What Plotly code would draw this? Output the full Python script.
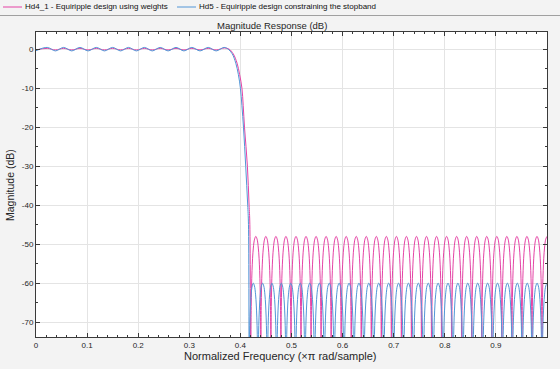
import plotly.graph_objects as go

# ---------------- data ----------------
x_tickvals = [0, 0.1, 0.2, 0.3, 0.4, 0.5, 0.6, 0.7, 0.8, 0.9]
x_ticktext = ["0", "0.1", "0.2", "0.3", "0.4", "0.5", "0.6", "0.7", "0.8", "0.9"]
y_tickvals = [0, -10, -20, -30, -40, -50, -60, -70]
y_ticktext = ["0", "-10", "-20", "-30", "-40", "-50", "-60", "-70"]

name_hd4 = "Hd4_1 - Equiripple design using weights"
name_hd5 = "Hd5 - Equiripple design constraining the stopband"

# passband ripple extrema + transition band (normalized freq, dB)
hd4_pass_f = [0.0, 0.022, 0.038, 0.054, 0.070, 0.086, 0.102, 0.118, 0.134, 0.150,
              0.1655, 0.181, 0.1965, 0.212, 0.2275, 0.243, 0.2585, 0.274, 0.2895,
              0.305, 0.321, 0.337, 0.3525, 0.369,
              0.378, 0.386, 0.3935, 0.3985, 0.403, 0.4055, 0.408, 0.411, 0.4137,
              0.4155, 0.417, 0.4185]
hd4_pass_db = [-0.18, 0.2, -0.2, 0.2, -0.2, 0.2, -0.2, 0.2, -0.2, 0.2,
               -0.2, 0.2, -0.2, 0.2, -0.2, 0.2, -0.2, 0.2, -0.2,
               0.2, -0.2, 0.2, -0.2, 0.3,
               0.0, -1.2, -3.6, -6.5, -10, -14.5, -20, -25, -30,
               -35, -40, -45]

hd5_pass_f = [0.0, 0.022, 0.038, 0.054, 0.070, 0.086, 0.102, 0.118, 0.134, 0.150,
              0.1655, 0.181, 0.1965, 0.212, 0.2275, 0.243, 0.2585, 0.274, 0.2895,
              0.305, 0.321, 0.337, 0.3525, 0.368,
              0.376, 0.384, 0.391, 0.396, 0.400, 0.403, 0.406, 0.4083, 0.4104,
              0.4124, 0.4143, 0.4158]
hd5_pass_db = [-0.4, 0.45, -0.45, 0.45, -0.45, 0.45, -0.45, 0.45, -0.45, 0.45,
               -0.45, 0.45, -0.45, 0.45, -0.45, 0.45, -0.45, 0.45, -0.45,
               0.45, -0.45, 0.45, -0.45, 0.45,
               0.0, -1.2, -3.6, -6.5, -10, -14.5, -20, -25, -30,
               -35, -40, -45]

# stopband: null frequencies and lobe peak frequencies / levels
hd4_null_f = [0.4204, 0.4400, 0.4597, 0.4793, 0.4990, 0.5186, 0.5383, 0.5579, 0.5776,
              0.5972, 0.6169, 0.6365, 0.6562, 0.6758, 0.6955, 0.7151, 0.7348, 0.7544,
              0.7741, 0.7937, 0.8134, 0.8330, 0.8527, 0.8723, 0.8920, 0.9116, 0.9313,
              0.9509, 0.9706, 0.9902]
hd4_peak_f = [0.4302, 0.4498, 0.4695, 0.4891, 0.5088, 0.5284, 0.5481, 0.5677, 0.5874,
              0.6070, 0.6267, 0.6463, 0.6660, 0.6856, 0.7053, 0.7249, 0.7446, 0.7642,
              0.7839, 0.8035, 0.8232, 0.8428, 0.8625, 0.8821, 0.9018, 0.9214, 0.9411,
              0.9607, 0.9804, 1.0000]
hd4_peak_db = -48

hd5_null_f = [0.4168, 0.4343, 0.4526, 0.4709, 0.4894, 0.5079, 0.5264, 0.5451, 0.5642,
              0.5836, 0.6029, 0.6223, 0.6417, 0.6610, 0.6804, 0.6998, 0.7192, 0.7385,
              0.7579, 0.7773, 0.7966, 0.8160, 0.8354, 0.8547, 0.8741, 0.8935, 0.9129,
              0.9322, 0.9516, 0.9710, 0.9903]
hd5_peak_f = [0.4252, 0.4434, 0.4617, 0.4801, 0.4986, 0.5171, 0.5357, 0.5545, 0.5739,
              0.5932, 0.6126, 0.6320, 0.6513, 0.6707, 0.6901, 0.7095, 0.7288, 0.7482,
              0.7676, 0.7869, 0.8063, 0.8257, 0.8450, 0.8644, 0.8838, 0.9032, 0.9225,
              0.9419, 0.9613, 0.9806, 1.0000]
hd5_peak_db = -60

null_db = -140  # response falls off the bottom of the axes at each null

# arch shape of one stopband lobe:
# fraction of the way from null to peak, and dB below the lobe peak
lobe_frac = [0.03, 0.08, 0.24, 0.5, 0.75]
lobe_drop = [26.5, 18.0, 8.7, 3.0, 0.7]


def build(pass_f, pass_db, nulls, peaks, peak_db):
    xs = list(pass_f)
    ys = list(pass_db)
    xs.append(nulls[0])
    ys.append(null_db)
    for i, pk in enumerate(peaks):
        left = nulls[i]
        for s, d in zip(lobe_frac, lobe_drop):
            xs.append(left + s * (pk - left))
            ys.append(peak_db - d)
        xs.append(pk)
        ys.append(peak_db)
        if i + 1 < len(nulls):
            right = nulls[i + 1]
            for s, d in zip(reversed(lobe_frac), reversed(lobe_drop)):
                xs.append(right - s * (right - pk))
                ys.append(peak_db - d)
            xs.append(right)
            ys.append(null_db)
    return xs, ys


hd4_x, hd4_y = build(hd4_pass_f, hd4_pass_db, hd4_null_f, hd4_peak_f, hd4_peak_db)
hd5_x, hd5_y = build(hd5_pass_f, hd5_pass_db, hd5_null_f, hd5_peak_f, hd5_peak_db)

PINK = "#e543a5"
BLUE = "#5296d7"
AX = "#3a3a3a"
FONT = "Liberation Sans"

fig = go.Figure()
fig.add_trace(go.Scatter(x=hd4_x, y=hd4_y, mode="lines", name=name_hd4,
                         line=dict(color=PINK, width=1, shape="spline", smoothing=1),
                         showlegend=False))
fig.add_trace(go.Scatter(x=hd5_x, y=hd5_y, mode="lines", name=name_hd5,
                         line=dict(color=BLUE, width=1, shape="spline", smoothing=1),
                         showlegend=False))

L, R, T, B = 36, 13, 32, 32
W, H = 560, 369
PW, PH = W - L - R, H - T - B


def px(xp):
    return (xp - L) / PW


def py(yp):
    return (H - B - yp) / PH


fig.update_layout(
    width=W, height=H,
    margin=dict(l=L, r=R, t=T, b=B, pad=0),
    paper_bgcolor="#f3f3f3",
    plot_bgcolor="#ffffff",
    font=dict(family=FONT, color="#262626"),
    showlegend=False,
    xaxis=dict(range=[0, 1], tickvals=x_tickvals, ticktext=x_ticktext,
               ticks="inside", ticklen=4, tickcolor=AX, tickwidth=1,
               showline=True, linecolor=AX, linewidth=1, mirror="ticks",
               showgrid=True, gridcolor="#e4e4e4", gridwidth=1, zeroline=False,
               tickfont=dict(size=8, color="#262626"),
               minor=dict(tick0=0, dtick=0.02, ticks="inside", ticklen=2,
                          tickcolor=AX, showgrid=False)),
    yaxis=dict(range=[-73.8, 4.4], tickvals=y_tickvals, ticktext=y_ticktext,
               ticks="inside", ticklen=4, tickcolor=AX, tickwidth=1,
               showline=True, linecolor=AX, linewidth=1, mirror="ticks",
               showgrid=True, gridcolor="#e4e4e4", gridwidth=1, zeroline=False,
               tickfont=dict(size=8, color="#262626"),
               minor=dict(tick0=0, dtick=5, ticks="inside", ticklen=2,
                          tickcolor=AX, showgrid=False)),
)

ann = []
ann.append(dict(text="Magnitude Response (dB)", xref="paper", yref="paper",
                x=px(272), y=py(25), xanchor="center", yanchor="middle",
                showarrow=False, font=dict(size=9.5, family=FONT, color="#262626")))
ann.append(dict(text="Normalized Frequency (\u00d7\u03c0 rad/sample)", xref="paper", yref="paper",
                x=px(280), y=py(356), xanchor="center", yanchor="middle",
                showarrow=False, font=dict(size=11, family=FONT, color="#262626")))
ann.append(dict(text="Magnitude (dB)", xref="paper", yref="paper",
                x=px(10), y=py(185), xanchor="center", yanchor="middle", textangle=-90,
                showarrow=False, font=dict(size=10.5, family=FONT, color="#262626")))
ann.append(dict(text=name_hd4, xref="paper", yref="paper",
                x=px(23), y=py(7), xanchor="left", yanchor="middle",
                showarrow=False, font=dict(size=8, family=FONT, color="#111111")))
ann.append(dict(text=name_hd5, xref="paper", yref="paper",
                x=px(197), y=py(7), xanchor="left", yanchor="middle",
                showarrow=False, font=dict(size=8, family=FONT, color="#111111")))
fig.update_layout(annotations=ann)

shapes = []
shapes.append(dict(type="line", xref="paper", yref="paper", x0=px(3), x1=px(22),
                   y0=py(7), y1=py(7), line=dict(color=PINK, width=1)))
shapes.append(dict(type="line", xref="paper", yref="paper", x0=px(177), x1=px(196),
                   y0=py(7), y1=py(7), line=dict(color=BLUE, width=1)))
shapes.append(dict(type="line", xref="paper", yref="paper", x0=px(0), x1=px(560),
                   y0=py(15.5), y1=py(15.5), line=dict(color="#a0a0a0", width=1)))
fig.update_layout(shapes=shapes)

fig.write_html("out.html",
               config={"displayModeBar": False},
               post_script="document.body.style.margin='0';document.body.style.padding='0';")
